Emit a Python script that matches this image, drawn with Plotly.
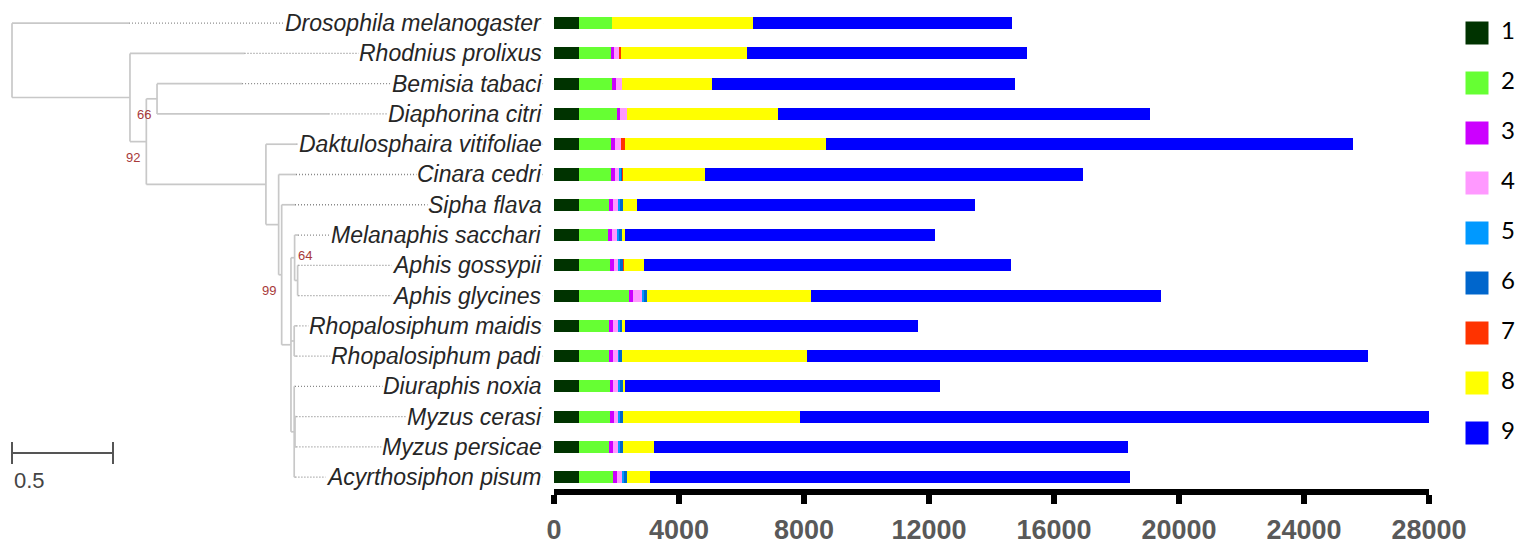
import plotly.graph_objects as go

# ---------------- data ----------------
species = [
    "Drosophila melanogaster", "Rhodnius prolixus", "Bemisia tabaci", "Diaphorina citri",
    "Daktulosphaira vitifoliae", "Cinara cedri", "Sipha flava", "Melanaphis sacchari",
    "Aphis gossypii", "Aphis glycines", "Rhopalosiphum maidis", "Rhopalosiphum padi",
    "Diuraphis noxia", "Myzus cerasi", "Myzus persicae", "Acyrthosiphon pisum",
]
class_names = ["1", "2", "3", "4", "5", "6", "7", "8", "9"]
class_colors = ["#003300", "#66FF33", "#CC00FF", "#FF99FF", "#0099FF",
                "#0066CC", "#FF3300", "#FFFF00", "#0000FF"]

c1 = [810, 810, 810, 810, 810, 810, 810, 810, 810, 810, 810, 810, 810, 810, 810, 810]
c2 = [1040, 1000, 1060, 1190, 1010, 1010, 960, 930, 970, 1600, 950, 950, 970, 970, 950, 1080]
c3 = [0, 110, 120, 110, 120, 130, 120, 130, 130, 120, 120, 120, 120, 130, 130, 130]
c4 = [0, 190, 200, 220, 190, 150, 180, 170, 160, 290, 180, 170, 170, 160, 180, 180]
c5 = [0, 0, 0, 0, 0, 60, 40, 40, 50, 50, 40, 40, 40, 40, 40, 50]
c6 = [0, 0, 0, 0, 0, 40, 90, 90, 90, 110, 90, 100, 110, 100, 90, 90]
c7 = [0, 30, 0, 0, 140, 20, 0, 0, 30, 0, 0, 0, 0, 0, 0, 0]
c8 = [4510, 4050, 2860, 4850, 6430, 2610, 450, 110, 650, 5250, 70, 5900, 40, 5670, 1000, 740]
c9 = [8300, 8950, 9700, 11890, 16870, 12100, 10820, 9910, 11730, 11190, 9390, 17950, 10090, 20210, 15170, 15350]
class_values = [c1, c2, c3, c4, c5, c6, c7, c8, c9]

x_ticks = [0, 4000, 8000, 12000, 16000, 20000, 24000, 28000]

# phylogeny: (name, depth, children, support)
tree = ("root", 0.0, [
    ("Drosophila melanogaster", 0.579, [], None),
    ("A", 0.584, [
        ("Rhodnius prolixus", 1.151, [], None),
        ("B", 0.665, [
            ("C", 0.718, [
                ("Bemisia tabaci", 1.139, [], None),
                ("Diaphorina citri", 1.567, [], None),
            ], "66"),
            ("D", 1.257, [
                ("Daktulosphaira vitifoliae", 1.408, [], None),
                ("E", 1.320, [
                    ("Cinara cedri", 1.406, [], None),
                    ("F", 1.335, [
                        ("Sipha flava", 1.401, [], None),
                        ("G", 1.381, [
                            ("H1", 1.399, [
                                ("Melanaphis sacchari", 1.416, [], None),
                                ("H2", 1.414, [
                                    ("Aphis gossypii", 1.418, [], None),
                                    ("Aphis glycines", 1.418, [], None),
                                ], None),
                            ], "64"),
                            ("R", 1.397, [
                                ("Rhopalosiphum maidis", 1.408, [], None),
                                ("Rhopalosiphum padi", 1.408, [], None),
                            ], None),
                            ("M", 1.397, [
                                ("Diuraphis noxia", 1.401, [], None),
                                ("J", 1.401, [
                                    ("Myzus cerasi", 1.408, [], None),
                                    ("Myzus persicae", 1.408, [], None),
                                ], None),
                                ("Acyrthosiphon pisum", 1.403, [], None),
                            ], None),
                        ], None),
                    ], "99"),
                ], None),
            ], None),
        ], "92"),
    ], None),
], None)
label_depth = 2.629   # where the species names end (tree units)
scale_len = 0.5

# ---------------- tree layout ----------------
row_of = {s: i for i, s in enumerate(species)}
solid_x, solid_y, dot_x, dot_y = [], [], [], []
supports = []


def layout(node):
    name, depth, kids, sup = node
    if not kids:
        y = row_of[name]
        dot_x.extend([depth, label_depth, None])
        dot_y.extend([y, y, None])
        return y
    ys = [layout(k) for k in kids]
    y = (ys[0] + ys[-1]) / 2
    solid_x.extend([depth, depth, None])
    solid_y.extend([ys[0], ys[-1], None])
    for k, ky in zip(kids, ys):
        solid_x.extend([depth, k[1], None])
        solid_y.extend([ky, ky, None])
    if sup:
        supports.append((sup, depth, y))
    return y


layout(tree)

W, H = 1522, 547
fig = go.Figure()

# stacked bars
for name, vals, col in zip(class_names, class_values, class_colors):
    fig.add_trace(go.Bar(
        y=list(range(len(species))), x=vals, orientation="h", name=name,
        marker=dict(color=col, line=dict(width=0)), width=0.4,
        showlegend=False, xaxis="x", yaxis="y", hoverinfo="x+name",
    ))

# tree
fig.add_trace(go.Scatter(x=solid_x, y=solid_y, mode="lines",
                         line=dict(color="#c8c8c8", width=1.7),
                         xaxis="x2", yaxis="y", showlegend=False, hoverinfo="skip"))
fig.add_trace(go.Scatter(x=dot_x, y=dot_y, mode="lines",
                         line=dict(color="#8a8a8a", width=1.3, dash="1px,2px"),
                         xaxis="x2", yaxis="y", showlegend=False, hoverinfo="skip"))
# scale bar
sb_y = 14.2
fig.add_trace(go.Scatter(
    x=[0, scale_len, None, 0, 0, None, scale_len, scale_len],
    y=[sb_y, sb_y, None, sb_y - 0.36, sb_y + 0.36, None, sb_y - 0.36, sb_y + 0.36],
    mode="lines", line=dict(color="#555555", width=2),
    xaxis="x2", yaxis="y", showlegend=False, hoverinfo="skip"))

# custom legend: squares and their labels
fig.add_trace(go.Scatter(
    x=[0] * len(class_names), y=list(range(len(class_names))),
    mode="markers",
    marker=dict(symbol="square", size=23, color=class_colors, line=dict(width=0)),
    xaxis="x3", yaxis="y3", showlegend=False, hoverinfo="skip"))
fig.add_trace(go.Scatter(
    x=[1.0] * len(class_names), y=list(range(len(class_names))),
    mode="text", text=class_names, textposition="middle right",
    textfont=dict(family="Lato, Open Sans, sans-serif", size=24, color="#000000"),
    xaxis="x3", yaxis="y3", showlegend=False, hoverinfo="skip"))

annotations = []
for s in species:
    annotations.append(dict(
        xref="x2", yref="y", x=label_depth, y=row_of[s], xanchor="right", yanchor="middle",
        text="<i>" + s + "</i>", showarrow=False, bgcolor="white", borderpad=0,
        font=dict(family="Liberation Sans, Arial, sans-serif", size=23, color="#262626")))
for sup, d, y in supports:
    if sup == "64":
        annotations.append(dict(xref="x2", yref="y", x=d, y=y, xanchor="left", yanchor="middle",
                                xshift=1, yshift=2, text=sup, showarrow=False,
                                font=dict(family="Liberation Sans, Arial", size=13, color="#a83a3a")))
    else:
        annotations.append(dict(xref="x2", yref="y", x=d, y=y, xanchor="right", yanchor="top",
                                xshift=-4, yshift=-6, text=sup, showarrow=False,
                                font=dict(family="Liberation Sans, Arial", size=13, color="#a83a3a")))
annotations.append(dict(xref="x2", yref="y", x=0, y=15.12, xanchor="left", yanchor="middle",
                        text=str(scale_len), showarrow=False,
                        font=dict(family="Liberation Sans, Arial", size=22, color="#444444")))

top_px, bot_px = 8, 489
hidden = dict(visible=False, automargin=False, showgrid=False, zeroline=False)
fig.update_layout(
    template="none",
    width=W, height=H, margin=dict(l=0, r=0, t=top_px, b=H - bot_px, pad=0, autoexpand=False),
    plot_bgcolor="white", paper_bgcolor="white", barmode="stack", bargap=0,
    showlegend=False, annotations=annotations,
    xaxis=dict(domain=[554 / W, 1429 / W], range=[0, 28000], anchor="y", automargin=False,
               tickvals=x_ticks, ticktext=[str(v) for v in x_ticks],
               showline=True, linecolor="black", linewidth=6,
               ticks="outside", ticklen=9, tickwidth=6, tickcolor="black",
               showgrid=False, zeroline=False, ticklabelstandoff=3,
               tickfont=dict(family="Liberation Sans, Arial, sans-serif",
                             size=27, color="#595959", weight="bold")),
    yaxis=dict(range=[15.39, -0.5], domain=[0, 1], anchor="x", **hidden),
    xaxis2=dict(domain=[0, 554 / W], range=[-12 / 202, 542 / 202], anchor="y", **hidden),
    xaxis3=dict(domain=[1465 / W, 1], range=[-0.5, 1.875], anchor="y3", **hidden),
    yaxis3=dict(domain=[0, 1], range=[-0.5 + (bot_px - top_px) / 50, -0.5], anchor="x3", **hidden),
)

fig.write_html("out.html", config={"displayModeBar": False, "responsive": False},
               post_script="document.body.style.margin='0';document.body.style.overflow='hidden';")
